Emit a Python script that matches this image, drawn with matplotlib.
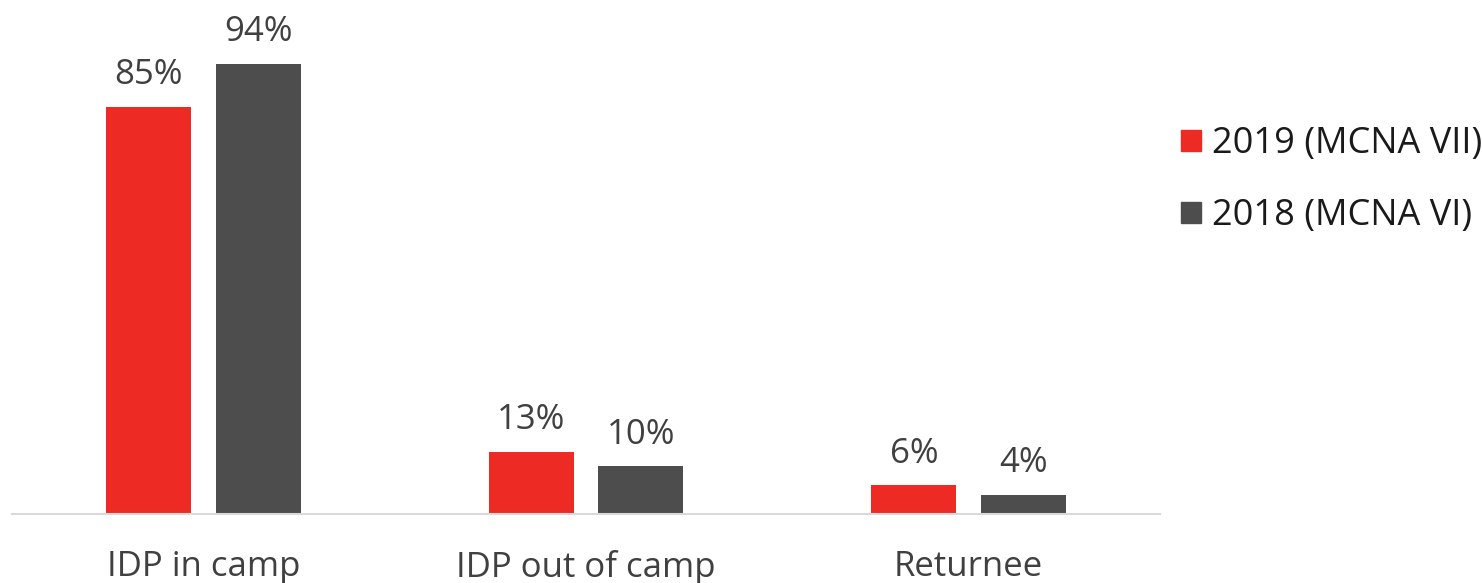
import matplotlib.pyplot as plt
import numpy as np
from matplotlib.patches import Patch

categories = ['IDP in camp', 'IDP out of camp', 'Returnee']
series_2019 = [85, 13, 6]
series_2018 = [94, 10, 4]
labels = ['2019 (MCNA VII)', '2018 (MCNA VI)']
colors = ['#EE2A24', '#4D4D4D']

plt.rcParams['font.family'] = ['Open Sans', 'DejaVu Sans']
text_color = '#404040'

fig = plt.figure(figsize=(14.82, 5.83), dpi=100)
ax = fig.add_axes([0.0081, 0.1184, 0.7746, 0.8216])

x = np.arange(len(categories))
w = 0.222
off = 0.143
b1 = ax.bar(x - off, series_2019, w, color=colors[0], label=labels[0])
b2 = ax.bar(x + off, series_2018, w, color=colors[1], label=labels[1])

for bars in (b1, b2):
    for b in bars:
        ax.text(b.get_x() + b.get_width() / 2, b.get_height() + 3, f'{b.get_height():.0f}%',
                ha='center', va='bottom', fontsize=25, color=text_color)

ax.set_xlim(-0.5, 2.5)
ax.set_ylim(0, 100)
ax.set_xticks(x)
ax.set_xticklabels(categories, fontsize=25, color=text_color)
ax.tick_params(axis='x', length=0, pad=26)
ax.set_yticks([])
for s in ['top', 'right', 'left']:
    ax.spines[s].set_visible(False)
ax.spines['bottom'].set_color('#D9D9D9')
ax.spines['bottom'].set_linewidth(1.5)

handles = [Patch(color=c) for c in colors]
fig.legend(handles, labels, loc='upper left', bbox_to_anchor=(0.792, 0.796),
           frameon=False, fontsize=26, handlelength=0.55, handleheight=0.55,
           handletextpad=0.3, labelspacing=1.0, labelcolor='#1a1a1a',
           borderaxespad=0, borderpad=0.2)

fig.savefig('out.png', dpi=100)
